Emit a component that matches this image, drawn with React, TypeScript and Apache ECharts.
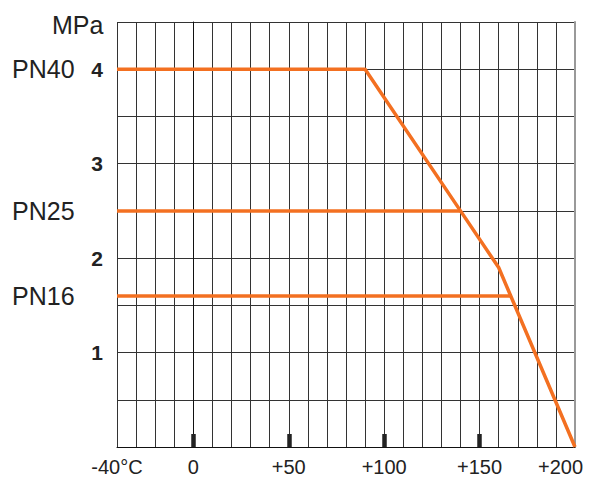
import React, { useEffect, useRef } from "react";
import * as echarts from "echarts";

// PN40 curve: temperature (°C) and pressure (MPa)
const pn40Temp = [-40, 90, 140, 160, 200];
const pn40Press = [4, 4, 2.5, 1.9, 0];
// PN25 line
const pn25Temp = [-40, 140];
const pn25Press = [2.5, 2.5];
// PN16 line
const pn16Temp = [-40, 166];
const pn16Press = [1.6, 1.6];

// Pressure class labels on the left
const classNames = ["PN16", "PN25", "PN40"];
const classValues = [1.6, 2.5, 4];

// Axis labels
const xLabelMap: Record<string, string> = {
  "-40": "-40°C",
  "0": "0",
  "50": "+50",
  "100": "+100",
  "150": "+150",
  "200": "{end|+200}",
};
const yLabelValues = [1, 2, 3, 4];
const bigTicks = [0, 50, 100, 150];
const unitName = "MPa";

const zip = (xs: number[], ys: number[]) => xs.map((x, i) => [x, ys[i]]);

export default function App() {
  const ref = useRef<HTMLDivElement>(null);
  useEffect(() => {
    if (!ref.current) return;
    const chart = echarts.init(ref.current, null, { renderer: "svg" });
    const font = "'Liberation Sans', Arial, Helvetica, sans-serif";
    const orange = "#F37021";
    const lineSeries = (name: string, data: number[][]) => ({
      name,
      type: "line",
      data,
      xAxisIndex: 0,
      yAxisIndex: 0,
      showSymbol: false,
      symbol: "none",
      silent: true,
      lineStyle: { color: orange, width: 3.5 },
      z: 5,
    });
    chart.setOption({
      animation: false,
      textStyle: { fontFamily: font },
      grid: { left: 117, top: 22, right: 14, bottom: 32, outerBoundsMode: "none", containLabel: false },
      graphic: [
        {
          type: "text",
          left: 52,
          top: 12,
          style: { text: unitName, fontSize: 25, fill: "#222", fontFamily: font },
        },
      ],
      xAxis: [
        {
          type: "value",
          min: -40,
          max: 200,
          interval: 10,
          axisLine: { show: true, lineStyle: { color: "#111", width: 1 } },
          axisTick: { show: false },
          splitLine: { show: true, lineStyle: { color: "#333", width: 1 } },
          axisLabel: {
            fontSize: 20,
            lineHeight: 18,
            color: "#222",
            margin: 11,
            fontFamily: font,
            formatter: (v: number) => xLabelMap[String(v)] ?? "",
            rich: {
              end: {
                fontSize: 20,
                lineHeight: 18,
                color: "#222",
                fontFamily: font,
                width: 74,
                align: "left",
              },
            },
          },
        },
        {
          type: "value",
          min: -40,
          max: 200,
          position: "bottom",
          axisLine: { show: false },
          axisLabel: { show: false },
          splitLine: { show: false },
          axisTick: {
            show: true,
            customValues: bigTicks,
            inside: true,
            length: 13,
            lineStyle: { color: "#222", width: 4.5 },
          },
        },
      ],
      yAxis: [
        {
          type: "value",
          min: 0,
          max: 4.5,
          interval: 0.5,
          axisLine: { show: true, lineStyle: { color: "#111", width: 1 } },
          axisTick: { show: false },
          splitLine: { show: true, lineStyle: { color: "#333", width: 1 } },
          axisLabel: {
            fontSize: 21,
            fontWeight: "bold",
            color: "#222",
            margin: 14,
            padding: [5, 0, 0, 0],
            fontFamily: font,
            formatter: (v: number) => (yLabelValues.includes(v) ? String(v) : ""),
          },
        },
        {
          type: "value",
          min: 0,
          max: 4.5,
          position: "left",
          axisLine: { show: false },
          axisTick: { show: false },
          splitLine: { show: false },
          axisLabel: {
            customValues: classValues,
            fontSize: 25,
            color: "#222",
            align: "left",
            margin: 105,
            padding: [4, 0, 0, 0],
            fontFamily: font,
            formatter: (v: number) => {
              const i = classValues.indexOf(v);
              return i >= 0 ? classNames[i] : "";
            },
          },
        },
        {
          type: "value",
          min: 0,
          max: 4.5,
          position: "right",
          axisLine: { show: true, lineStyle: { color: "#999", width: 2 } },
          axisTick: { show: false },
          splitLine: { show: false },
          axisLabel: { show: false },
        },
      ],
      series: [
        lineSeries("PN40", zip(pn40Temp, pn40Press)),
        lineSeries("PN25", zip(pn25Temp, pn25Press)),
        lineSeries("PN16", zip(pn16Temp, pn16Press)),
      ],
    });
    return () => chart.dispose();
  }, []);
  return (
    <div
      ref={ref}
      style={{ position: "fixed", left: 0, top: 0, width: 589, height: 479, background: "#fff" }}
    />
  );
}
